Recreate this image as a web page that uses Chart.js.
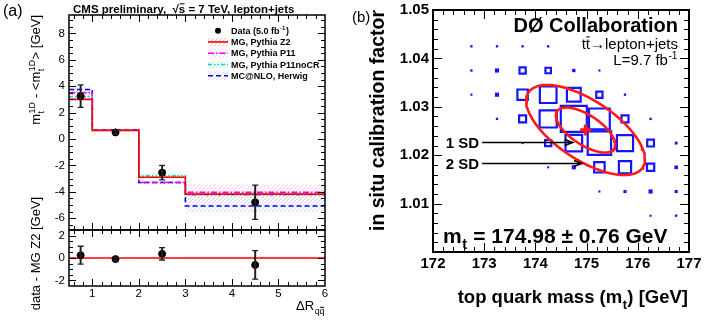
<!DOCTYPE html>
<html>
<head>
<meta charset="utf-8">
<script src="https://cdn.jsdelivr.net/npm/chart.js@4.4.1/dist/chart.umd.min.js"></script>
<style>
html, body { margin: 0; padding: 0; background: #fff; }
#page { position: relative; width: 706px; height: 329px; overflow: hidden; }
canvas { position: absolute; }
</style>
</head>
<body>
<div id="page">
  <canvas id="topLeft" width="345" height="232" style="left:0;top:0"></canvas>
  <canvas id="bottomLeft" width="345" height="149" style="left:0;top:180px"></canvas>
  <canvas id="rightPanel" width="361" height="329" style="left:345px;top:0"></canvas>
</div>
<script>
const FONT = '"Liberation Sans", Arial, Helvetica, sans-serif';

// ---- panel (a): m_t^1D shift vs dR(qq)
const binEdges = [0.5, 1, 2, 3, 6];
const dataCenters = [0.75, 1.5, 2.5, 4.5];
const dataValues = [3.25, 0.5, -2.55, -4.8];
const dataErrors = [0.85, 0.15, 0.55, 1.3];
const mgZ2 = [3.0, 0.65, -2.9, -4.18];
const mgP11 = [3.5, 0.7, -3.3, -4.05];
const mgP11noCR = [3.2, 0.65, -2.8, -4.25];
const mcnloHerwig = [3.75, 0.7, -3.3, -5.08];
const mgZ2Unc = [0.08, 0.05, 0.08, 0.12];
const mgP11Unc = [0.3, 0.08, 0.12, 0.6];
const mgP11noCRUnc = [0.15, 0.06, 0.15, 0.2];
const herwigUnc = [0.3, 0.08, 0.12, 0.5];
const ratioValues = [0.25, -0.1, 0.37, -0.62];
const ratioErrors = [0.8, 0.15, 0.55, 1.27];
const ratioReference = [0, 0, 0, 0];
const ratioBand = [0.05, 0.04, 0.05, 0.12];
const upperYTicks = [-6, -4, -2, 0, 2, 4, 6, 8];
const lowerYTicks = [-2, 0, 2];
const dRTicks = [1, 2, 3, 4, 5, 6];

// ---- panel (b): 2D likelihood, m_t vs JES
const massGrid = [172.75, 173.25, 173.75, 174.25, 174.75, 175.25, 175.75, 176.25, 176.75];
const jesGrid = [1.0425, 1.0375, 1.0325, 1.0275, 1.0225, 1.0175, 1.0125, 1.0075];
const cellLikelihood = [
  [0.09, 0.09, 0.09, 0.09, 0, 0, 0, 0, 0],
  [0.09, 0.16, 0.24, 0.21, 0.13, 0.08, 0, 0, 0],
  [0.08, 0.16, 0.40, 0.64, 0.53, 0.24, 0.09, 0, 0],
  [0, 0.09, 0.27, 0.66, 1.00, 0.80, 0.27, 0.09, 0],
  [0, 0, 0.08, 0.24, 0.64, 0.90, 0.62, 0.26, 0.11],
  [0, 0, 0, 0.08, 0.16, 0.40, 0.47, 0.28, 0.14],
  [0, 0, 0, 0, 0, 0.08, 0.12, 0.16, 0.12],
  [0, 0, 0, 0, 0, 0, 0, 0.08, 0.09]
];
const fitMass = 174.98;
const fitJes = 1.0252;
const sigmaMass = 0.58;
const sigmaJes = 0.00465;
const fitCorr = -0.65;
const sdLevels = [1, 2];
const sdLabels = ['1 SD', '2 SD'];
const sdArrowStart = [172.96, 172.96];
const sdArrowEnd = [174.73, 174.91];
const sdArrowJes = [1.0228, 1.0184];
const massTicks = [172, 173, 174, 175, 176, 177];
const jesTicks = [1.01, 1.02, 1.03, 1.04, 1.05];

// ---------- helpers
function histPoints(vals) {
  return binEdges.map((e, i) => ({ x: e, y: vals[Math.min(i, vals.length - 1)] }));
}

function minorValues(min, max, step) {
  const out = [];
  const k0 = Math.ceil(min / step - 1e-6), k1 = Math.floor(max / step + 1e-6);
  for (let k = k0; k <= k1; k++) out.push(+(k * step).toFixed(6));
  return out;
}

function hatch(color) {
  const c = document.createElement('canvas');
  c.width = 4; c.height = 4;
  const g = c.getContext('2d');
  g.strokeStyle = color;
  g.lineWidth = 1;
  g.beginPath();
  g.moveTo(0, 4); g.lineTo(4, 0);
  g.moveTo(-1, 1); g.lineTo(1, -1);
  g.moveTo(3, 5); g.lineTo(5, 3);
  g.stroke();
  return g.createPattern(c, 'repeat');
}

// text with sub/superscripts and overbars
function drawRich(ctx, parts, x, y, o) {
  const sm = o.size * 0.68;
  const f = s => `${o.weight || 'normal'} ${s}px ${FONT}`;
  const seg = parts.map(p => {
    ctx.font = f(o.size);
    const w = ctx.measureText(p.t).width;
    let sw = 0;
    if (p.sub || p.sup) {
      ctx.font = f(sm);
      sw = Math.max(p.sub ? ctx.measureText(p.sub).width : 0, p.sup ? ctx.measureText(p.sup).width : 0) + 1;
    }
    return { p, w, sw };
  });
  const W = seg.reduce((s, q) => s + q.w + q.sw, 0);
  let cx = o.align === 'right' ? -W : o.align === 'center' ? -W / 2 : 0;
  ctx.save();
  ctx.translate(x, y);
  if (o.angle) ctx.rotate(o.angle);
  ctx.fillStyle = o.color || '#000';
  ctx.textBaseline = 'alphabetic';
  ctx.textAlign = 'left';
  for (const q of seg) {
    ctx.font = f(o.size);
    ctx.fillText(q.p.t, cx, 0);
    if (q.p.bar) {
      const lw = ctx.measureText(q.p.t.slice(-1)).width;
      ctx.fillRect(cx + q.w - lw + lw * 0.1, -o.size * 0.84, lw * 0.8, Math.max(1, o.size * 0.07));
    }
    cx += q.w;
    if (q.sw) {
      ctx.font = f(sm);
      if (q.p.sup) ctx.fillText(q.p.sup, cx + 0.5, -o.size * 0.42);
      if (q.p.sub) {
        ctx.fillText(q.p.sub, cx + 0.5, o.size * 0.3);
        if (q.p.subBar) {
          const lw = ctx.measureText(q.p.sub.slice(-1)).width;
          const sw = ctx.measureText(q.p.sub).width;
          ctx.fillRect(cx + 0.5 + sw - lw + lw * 0.1, o.size * 0.3 - sm * 0.8, lw * 0.8, 1);
        }
      }
      cx += q.sw;
    }
  }
  ctx.restore();
}

// ROOT style frame with inward ticks on all four sides
function drawFrame(chart, f) {
  const { ctx, chartArea: a } = chart;
  const xs = chart.scales.x, ys = chart.scales.y;
  ctx.save();
  ctx.strokeStyle = '#000';
  ctx.lineWidth = 1;
  ctx.beginPath();
  const xt = (vals, len) => vals.forEach(v => {
    const p = Math.round(xs.getPixelForValue(v)) + 0.5;
    if (p < a.left + 1 || p > a.right - 1) return;
    ctx.moveTo(p, a.bottom); ctx.lineTo(p, a.bottom - len);
    ctx.moveTo(p, a.top); ctx.lineTo(p, a.top + len);
  });
  const yt = (vals, len) => vals.forEach(v => {
    const p = Math.round(ys.getPixelForValue(v)) + 0.5;
    if (p < a.top + 1 || p > a.bottom - 1) return;
    ctx.moveTo(a.left, p); ctx.lineTo(a.left + len, p);
    ctx.moveTo(a.right, p); ctx.lineTo(a.right - len, p);
  });
  xt(minorValues(xs.min, xs.max, f.xMinor), f.minorX);
  xt(f.xMajor, f.majorX);
  yt(minorValues(ys.min, ys.max, f.yMinor), f.minorY);
  yt(f.yMajor, f.majorY);
  ctx.stroke();
  ctx.lineWidth = f.lw;
  ctx.strokeRect(a.left, a.top, a.right - a.left, a.bottom - a.top);
  ctx.restore();
}

function drawBands(chart, bands) {
  const { ctx, chartArea: a } = chart;
  const xs = chart.scales.x, ys = chart.scales.y;
  ctx.save();
  ctx.beginPath();
  ctx.rect(a.left, a.top, a.right - a.left, a.bottom - a.top);
  ctx.clip();
  bands.forEach(b => {
    ctx.fillStyle = b.fill;
    b.vals.forEach((v, i) => {
      const x0 = xs.getPixelForValue(binEdges[i]), x1 = xs.getPixelForValue(binEdges[i + 1]);
      const y0 = ys.getPixelForValue(v + b.unc[i]), y1 = ys.getPixelForValue(v - b.unc[i]);
      ctx.fillRect(x0, y0, x1 - x0, y1 - y0);
    });
  });
  ctx.restore();
}

function drawErrors(chart, xv, yv, ev) {
  const { ctx } = chart;
  const xs = chart.scales.x, ys = chart.scales.y;
  ctx.save();
  ctx.strokeStyle = '#222';
  xv.forEach((x, i) => {
    const px = xs.getPixelForValue(x);
    const t = ys.getPixelForValue(yv[i] + ev[i]), b = ys.getPixelForValue(yv[i] - ev[i]);
    ctx.lineWidth = 2;
    ctx.beginPath(); ctx.moveTo(px, t); ctx.lineTo(px, b); ctx.stroke();
    ctx.lineWidth = 1.3;
    ctx.beginPath();
    ctx.moveTo(px - 3, t); ctx.lineTo(px + 3, t);
    ctx.moveTo(px - 3, b); ctx.lineTo(px + 3, b);
    ctx.stroke();
  });
  ctx.restore();
}

const tickFontL = { family: FONT, size: 11.5 };
const tickFontR = { family: FONT, size: 15, weight: 'bold' };

function fixedTicks(list) {
  return s => { s.ticks = list.map(v => ({ value: v })); };
}
// fixed axis box size, no extra label padding added to the chart area
function fixedSize(dim, px) {
  return s => {
    s[dim] = px;
    s.paddingTop = 0; s.paddingBottom = 0; s.paddingLeft = 0; s.paddingRight = 0;
  };
}

const pat = {
  z2: hatch('rgba(255,90,90,0.4)'),
  p11: hatch('rgba(255,90,255,0.3)'),
  nocr: hatch('rgba(60,210,210,0.35)'),
  herwig: hatch('rgba(100,100,255,0.25)')
};

const mcStyles = [
  { label: 'MG, Pythia Z2', vals: mgZ2, unc: mgZ2Unc, color: '#ff0000', dash: [], fill: pat.z2 },
  { label: 'MG, Pythia P11', vals: mgP11, unc: mgP11Unc, color: '#ee00ee', dash: [6, 2, 1.5, 2], fill: pat.p11 },
  { label: 'MG, Pythia P11noCR', vals: mgP11noCR, unc: mgP11noCRUnc, color: '#22cccc', dash: [4, 2, 1.5, 2, 1.5, 2], fill: pat.nocr },
  { label: 'MC@NLO, Herwig', vals: mcnloHerwig, unc: herwigUnc, color: '#0000ff', dash: [5, 3], fill: pat.herwig }
];

// ---------- (a) upper pad
new Chart(document.getElementById('topLeft'), {
  type: 'line',
  data: {
    datasets: [
      {
        label: 'Data (5.0 fb-1)',
        data: dataCenters.map((x, i) => ({ x, y: dataValues[i] })),
        showLine: false, pointRadius: 3.5, pointBackgroundColor: '#000', pointBorderColor: '#000'
      },
      mcStyles[0], mcStyles[2], mcStyles[1], mcStyles[3]
    ].map(d => d.vals ? {
      label: d.label, data: histPoints(d.vals), stepped: true, borderColor: d.color,
      borderDash: d.dash, borderWidth: 1.6, pointRadius: 0, fill: false, tension: 0
    } : d)
  },
  options: {
    responsive: false, animation: false, devicePixelRatio: 1,
    layout: { autoPadding: false, padding: { top: 15, right: 20, bottom: 2, left: 0 } },
    plugins: { legend: { display: false }, tooltip: { enabled: false } },
    scales: {
      x: { type: 'linear', min: 0.5, max: 6, display: false },
      y: {
        type: 'linear', min: -6.9, max: 9.4,
        afterBuildTicks: fixedTicks(upperYTicks),
        afterFit: fixedSize('width', 69),
        grid: { display: false, drawTicks: false }, border: { display: false },
        ticks: { font: tickFontL, color: '#000', padding: 4, autoSkip: false }
      }
    }
  },
  plugins: [{
    id: 'upperDeco',
    beforeDatasetsDraw(chart) {
      drawBands(chart, mcStyles.map(m => ({ vals: m.vals, unc: m.unc, fill: m.fill })));
    },
    afterDatasetsDraw(chart) {
      drawErrors(chart, dataCenters, dataValues, dataErrors);
    },
    afterDraw(chart) {
      const ctx = chart.ctx;
      drawFrame(chart, { lw: 1.5, xMajor: dRTicks, xMinor: 0.2, yMajor: upperYTicks, yMinor: 0.5, majorX: 7, minorX: 4, majorY: 7, minorY: 4 });
      drawRich(ctx, [{ t: '(a)' }], 3, 16, { size: 16 });
      drawRich(ctx, [{ t: 'CMS preliminary,  √' }, { t: 's', bar: true }, { t: ' = 7 TeV, lepton+jets' }], 73, 13, { size: 11.5, weight: 'bold' });
      drawRich(ctx, [{ t: 'm', sub: 't', sup: '1D' }, { t: ' - <m', sub: 't', sup: '1D' }, { t: '> [GeV]' }], 40, 15,
        { size: 13, align: 'right', angle: -Math.PI / 2 });
      // legend
      const lx0 = 208, lx1 = 228, ty = 30.7, dy = 11.25;
      ctx.save();
      ctx.fillStyle = '#000';
      ctx.beginPath(); ctx.arc((lx0 + lx1) / 2, ty, 3, 0, Math.PI * 2); ctx.fill();
      ctx.restore();
      drawRich(ctx, [{ t: 'Data (5.0 fb', sup: '-1' }, { t: ')' }], 231, ty + 3.2, { size: 9, weight: 'bold' });
      mcStyles.forEach((m, i) => {
        const y = ty + dy * (i + 1);
        ctx.save();
        ctx.fillStyle = m.fill;
        ctx.fillRect(lx0, y - 4, lx1 - lx0, 8);
        ctx.strokeStyle = m.color; ctx.lineWidth = 1.6; ctx.setLineDash(m.dash);
        ctx.beginPath(); ctx.moveTo(lx0, y); ctx.lineTo(lx1, y); ctx.stroke();
        ctx.restore();
        drawRich(ctx, [{ t: m.label }], 231, y + 3.2, { size: 9, weight: 'bold' });
      });
    }
  }]
});

// ---------- (a) ratio pad
new Chart(document.getElementById('bottomLeft'), {
  type: 'line',
  data: {
    datasets: [
      {
        label: 'data - MG Z2',
        data: dataCenters.map((x, i) => ({ x, y: ratioValues[i] })),
        showLine: false, pointRadius: 3.5, pointBackgroundColor: '#000', pointBorderColor: '#000'
      },
      {
        label: 'MG Z2', data: histPoints(ratioReference), stepped: true, borderColor: '#ff0000',
        borderWidth: 1.6, pointRadius: 0, fill: false
      }
    ]
  },
  options: {
    responsive: false, animation: false, devicePixelRatio: 1,
    layout: { autoPadding: false, padding: { top: 50, right: 20, bottom: 0, left: 0 } },
    plugins: { legend: { display: false }, tooltip: { enabled: false } },
    scales: {
      x: {
        type: 'linear', min: 0.5, max: 6,
        afterBuildTicks: fixedTicks(dRTicks),
        afterFit: fixedSize('height', 43),
        grid: { display: false, drawTicks: false }, border: { display: false },
        ticks: { font: tickFontL, color: '#000', padding: 1, maxRotation: 0, autoSkip: false }
      },
      y: {
        type: 'linear', min: -2.5, max: 2.5,
        afterBuildTicks: fixedTicks(lowerYTicks),
        afterFit: fixedSize('width', 69),
        grid: { display: false, drawTicks: false }, border: { display: false },
        ticks: { font: tickFontL, color: '#000', padding: 4, autoSkip: false }
      }
    }
  },
  plugins: [{
    id: 'lowerDeco',
    beforeDatasetsDraw(chart) {
      drawBands(chart, [{ vals: ratioReference, unc: ratioBand, fill: pat.z2 }]);
    },
    afterDatasetsDraw(chart) {
      drawErrors(chart, dataCenters, ratioValues, ratioErrors);
    },
    afterDraw(chart) {
      const ctx = chart.ctx;
      drawFrame(chart, { lw: 1.5, xMajor: dRTicks, xMinor: 0.2, yMajor: lowerYTicks, yMinor: 0.5, majorX: 7, minorX: 4, majorY: 7, minorY: 4 });
      drawRich(ctx, [{ t: 'data - MG Z2 [GeV]' }], 40, 73.5, { size: 13, align: 'center', angle: -Math.PI / 2 });
      drawRich(ctx, [{ t: 'ΔR', sub: 'qq', subBar: true }], 325, 130, { size: 13, align: 'right' });
    }
  }]
});

// ---------- (b)
const cells = [];
cellLikelihood.forEach((row, r) => row.forEach((w, c) => {
  if (w > 0) cells.push({ x: massGrid[c], y: jesGrid[r], w });
}));
const boxSide = w => w * 26;
const boxBlue = '#1414ff';

function ellipsePoints(k) {
  const pts = [];
  const n = 120;
  for (let i = 0; i <= n; i++) {
    const t = 2 * Math.PI * i / n;
    pts.push({
      x: fitMass + k * sigmaMass * Math.cos(t),
      y: fitJes + k * sigmaJes * (fitCorr * Math.cos(t) + Math.sqrt(1 - fitCorr * fitCorr) * Math.sin(t))
    });
  }
  return pts;
}

new Chart(document.getElementById('rightPanel'), {
  type: 'scatter',
  data: {
    datasets: [
      {
        label: 'fit', data: [{ x: fitMass, y: fitJes }], pointStyle: 'cross',
        pointRadius: 5.5, borderWidth: 3.5, borderColor: '#ff1a1a'
      },
      ...sdLevels.map(k => ({
        label: k + ' SD', data: ellipsePoints(k), showLine: true, pointRadius: 0,
        borderColor: '#ff1a1a', borderWidth: 2.6, fill: false, tension: 0
      })),
      {
        label: 'likelihood', data: cells, pointStyle: 'rect',
        pointRadius: c => boxSide(c.raw.w) / Math.SQRT2,
        borderWidth: c => boxSide(c.raw.w) < 5 ? 0 : 2.2,
        borderColor: boxBlue,
        backgroundColor: c => boxSide(c.raw.w) < 5 ? boxBlue : 'rgba(0,0,0,0)'
      }
    ]
  },
  options: {
    responsive: false, animation: false, devicePixelRatio: 1,
    layout: { autoPadding: false, padding: { top: 10, right: 17, bottom: 0, left: 0 } },
    plugins: { legend: { display: false }, tooltip: { enabled: false } },
    scales: {
      x: {
        type: 'linear', min: 172, max: 177,
        afterBuildTicks: fixedTicks(massTicks),
        afterFit: fixedSize('height', 77),
        grid: { display: false, drawTicks: false }, border: { display: false },
        ticks: { font: tickFontR, color: '#000', padding: 3, maxRotation: 0, autoSkip: false }
      },
      y: {
        type: 'linear', min: 1.0, max: 1.05,
        afterBuildTicks: fixedTicks(jesTicks),
        afterFit: fixedSize('width', 88),
        grid: { display: false, drawTicks: false }, border: { display: false },
        ticks: { font: tickFontR, color: '#000', padding: 4, autoSkip: false, callback: v => v.toFixed(2) }
      }
    }
  },
  plugins: [{
    id: 'rightDeco',
    afterDatasetsDraw(chart) {
      const ctx = chart.ctx;
      const xs = chart.scales.x, ys = chart.scales.y;
      sdLabels.forEach((lab, i) => {
        const x0 = xs.getPixelForValue(sdArrowStart[i]);
        const x1 = xs.getPixelForValue(sdArrowEnd[i]);
        const y = Math.round(ys.getPixelForValue(sdArrowJes[i])) + 0.5;
        ctx.save();
        ctx.strokeStyle = '#000'; ctx.lineWidth = 1.4;
        ctx.beginPath();
        ctx.moveTo(x0, y); ctx.lineTo(x1, y);
        ctx.moveTo(x1 - 8, y - 3); ctx.lineTo(x1, y); ctx.lineTo(x1 - 8, y + 3);
        ctx.stroke();
        ctx.restore();
        drawRich(ctx, [{ t: lab }], x0 - 3, y + 5.5, { size: 15, weight: 'bold', align: 'right' });
      });
    },
    afterDraw(chart) {
      const ctx = chart.ctx;
      drawFrame(chart, { lw: 2, xMajor: massTicks, xMinor: 0.2, yMajor: jesTicks, yMinor: 0.002, majorX: 9, minorX: 5, majorY: 9, minorY: 5 });
      drawRich(ctx, [{ t: '(b)' }], 7, 22, { size: 15 });
      drawRich(ctx, [{ t: 'in situ calibration factor' }], 39, 10, { size: 19.5, weight: 'bold', align: 'right', angle: -Math.PI / 2 });
      drawRich(ctx, [{ t: 'top quark mass (m', sub: 't' }, { t: ') [GeV]' }], 343, 303, { size: 18.5, weight: 'bold', align: 'right' });
      drawRich(ctx, [{ t: 'DØ Collaboration' }], 333, 32, { size: 20, weight: 'bold', align: 'right' });
      drawRich(ctx, [{ t: 't' }, { t: 't', bar: true }, { t: '→lepton+jets' }], 333, 49, { size: 15, align: 'right' });
      drawRich(ctx, [{ t: 'L=9.7 fb', sup: '-1' }], 333, 65, { size: 15, align: 'right' });
      drawRich(ctx, [{ t: 'm', sub: 't' }, { t: ' = 174.98 ± 0.76 GeV' }], 98, 243, { size: 21, weight: 'bold' });
    }
  }]
});
</script>
</body>
</html>
